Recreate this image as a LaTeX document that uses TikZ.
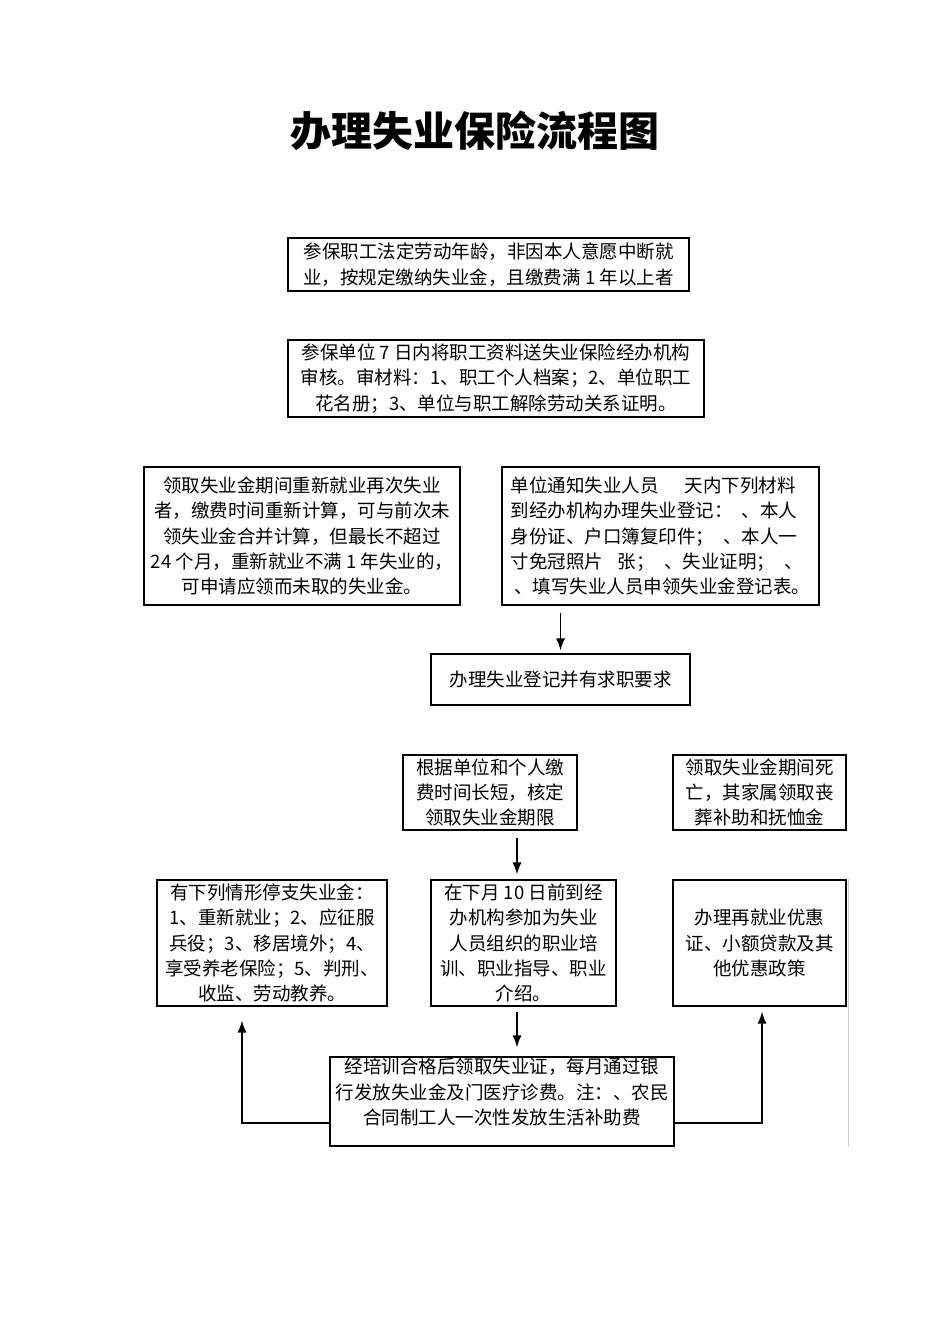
\documentclass[tikz,border=0pt]{standalone}
\usepackage{fontspec}
\setmainfont{Noto Sans CJK SC}
\usetikzlibrary{arrows.meta}
\begin{document}
\begin{tikzpicture}[x=1pt,y=-1pt,
  bx/.style={draw, line width=1.1pt, align=center, inner sep=0pt, font=\fontsize{18.5}{25.3}\selectfont},
  arr/.style={line width=1.5pt, -{Latex[length=12pt,width=9pt]}},
  ln/.style={line width=1.2pt}]
\useasboundingbox (0,0) rectangle (950,1344);
\node[font=\fontsize{41}{44}\selectfont\bfseries] (title) at (475,131) {办理失业保险流程图};
\node[bx, minimum width=401pt, minimum height=53pt] (A) at (488.5,264.5)
  {参保职工法定劳动年龄，非因本人意愿中断就\\业，按规定缴纳失业金，且缴费满 1 年以上者};
\node[bx, minimum width=416pt, minimum height=77pt] (B) at (496,378.5)
  {参保单位 7 日内将职工资料送失业保险经办机构\\审核。审材料：1、职工个人档案；2、单位职工\\花名册；3、单位与职工解除劳动关系证明。};
\node[bx, minimum width=316pt, minimum height=138pt] (C) at (302,536)
  {领取失业金期间重新就业再次失业\\者，缴费时间重新计算，可与前次未\\领失业金合并计算，但最长不超过\\24 个月，重新就业不满 1 年失业的，\\可申请应领而未取的失业金。};
\node[bx, minimum width=317pt, minimum height=138pt, align=left] (D) at (660.5,536)
  {单位通知失业人员\hspace{1.4em}天内下列材料\\到经办机构办理失业登记：\hspace{0.5em}、本人\\身份证、户口簿复印件；\hspace{0.5em}、本人一\\寸免冠照片\hspace{0.8em}张；\hspace{0.5em}、失业证明；\hspace{0.5em}、\\\hspace{0.2em}、填写失业人员申领失业金登记表。};
\node[bx, minimum width=259pt, minimum height=51pt] (E) at (560.5,679.5)
  {办理失业登记并有求职要求};
\node[bx, minimum width=174pt, minimum height=75pt] (F) at (490,792.5)
  {根据单位和个人缴\\费时间长短，核定\\领取失业金期限};
\node[bx, minimum width=173pt, minimum height=75pt] (G) at (759.5,792.5)
  {领取失业金期间死\\亡，其家属领取丧\\葬补助和抚恤金};
\node[bx, minimum width=230pt, minimum height=126pt] (H) at (272,943)
  {有下列情形停支失业金：\\1、重新就业；2、应征服\\兵役；3、移居境外；4、\\享受养老保险；5、判刑、\\收监、劳动教养。};
\node[bx, minimum width=185pt, minimum height=126pt] (I) at (523.5,943)
  {在下月 10 日前到经\\办机构参加为失业\\人员组织的职业培\\训、职业指导、职业\\介绍。};
\node[bx, minimum width=173pt, minimum height=126pt] (J) at (759.5,943)
  {办理再就业优惠\\证、小额贷款及其\\他优惠政策};
\node[bx, minimum width=344pt, minimum height=89pt] (K) at (502,1101.5)
  {经培训合格后领取失业证，每月通过银\\行发放失业金及门医疗诊费。注：、农民\\合同制工人一次性发放生活补助费\\[-5pt]\mbox{}};
% connectors
\draw[arr, shorten <=7pt, shorten >=3pt] (D.south -| E.north) -- (E.north);
\draw[arr, shorten <=7pt, shorten >=5pt] ([xshift=27pt]F.south) -- ([xshift=27pt]F.south |- I.north);
\draw[arr, shorten <=5pt, shorten >=9pt] ([xshift=-6.5pt]I.south) -- ([xshift=-6.5pt]I.south |- K.north);
\draw[arr] ([yshift=-21.5pt]K.west) -| ([xshift=-30pt,yshift=-14pt]H.south);
\draw[arr] ([yshift=-21.5pt]K.east) -| ([xshift=2.5pt,yshift=-5pt]J.south);
\draw[line width=1pt, gray!35] ([xshift=2pt]J.north east) -- ([xshift=2pt]J.north east |- K.south);
\end{tikzpicture}
\end{document}
